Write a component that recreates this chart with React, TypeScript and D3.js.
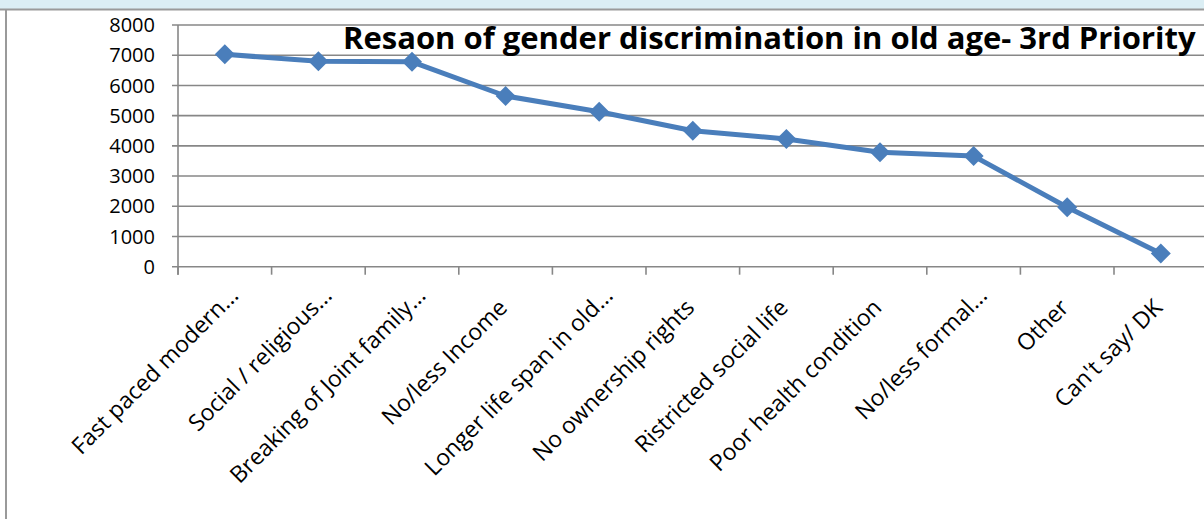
import React from "react";
import * as d3 from "d3";

const categories = [
  "Fast paced modern...",
  "Social / religious...",
  "Breaking of Joint family...",
  "No/less Income",
  "Longer life span in old...",
  "No ownership rights",
  "Ristricted social life",
  "Poor health condition",
  "No/less formal...",
  "Other",
  "Can't say/ DK",
];
const values = [7030, 6800, 6780, 5650, 5130, 4500, 4230, 3790, 3660, 1970, 440];
const yTicks = [0, 1000, 2000, 3000, 4000, 5000, 6000, 7000, 8000];
const title = "Resaon of gender discrimination in old age- 3rd Priority";

const W = 1204;
const H = 519;
const left = 178;
const right = 1207.6;
const top = 25;
const bottom = 266.7;

export default function App() {
  const x = d3.scaleBand<string>().domain(categories).range([left, right]).padding(0);
  const y = d3.scaleLinear().domain([0, 8000]).range([bottom, top]);
  const cx = (c: string) => (x(c) as number) + x.bandwidth() / 2;
  const line = d3
    .line<number>()
    .x((_, i) => cx(categories[i]))
    .y((d) => y(d));
  const grid = "#878787";
  const font = "'Open Sans', sans-serif";
  const bounds = [...categories.map((c) => x(c) as number), right];

  return (
    <svg
      width={W}
      height={H}
      style={{ position: "absolute", left: 0, top: 0, background: "#fff" }}
    >
      <rect x={0} y={0} width={W} height={9} fill="#DBEEF4" />
      <line x1={0} x2={W} y1={9.5} y2={9.5} stroke="#9a9a9a" strokeWidth={2} />
      <line x1={6} x2={6} y1={9} y2={H} stroke="#9a9a9a" strokeWidth={2} />
      {yTicks.map((t) => (
        <g key={t}>
          <line x1={left - 6} x2={W} y1={y(t)} y2={y(t)} stroke={grid} strokeWidth={1.6} />
          <text
            x={155}
            y={y(t)}
            dy="0.36em"
            textAnchor="end"
            fontFamily={font}
            fontSize={20}
            fill="#000"
          >
            {t}
          </text>
        </g>
      ))}
      <line x1={left} x2={left} y1={top} y2={bottom + 8} stroke={grid} strokeWidth={1.6} />
      {bounds.map((b, i) => (
        <line key={i} x1={b} x2={b} y1={bottom} y2={bottom + 8} stroke={grid} strokeWidth={1.6} />
      ))}
      <path d={line(values) || ""} fill="none" stroke="#4A7EBB" strokeWidth={5} strokeLinejoin="round" />
      {values.map((v, i) => {
        const px = cx(categories[i]);
        const py = y(v);
        const r = 10;
        return (
          <path
            key={i}
            d={`M${px},${py - r}L${px + r},${py}L${px},${py + r}L${px - r},${py}Z`}
            fill="#4A7EBB"
          />
        );
      })}
      {categories.map((c) => {
        const shift = c.endsWith("...") ? 15 : 3;
        const bx = cx(c) + shift;
        const by = 312 - shift;
        return (
          <text
            key={c}
            transform={`translate(${bx},${by}) rotate(-45)`}
            textAnchor="end"
            fontFamily={font}
            fontSize={23}
            fill="#000"
          >
            {c}
          </text>
        );
      })}
      <text x={343} y={49} fontFamily={font} fontWeight="bold" fontSize={31} fill="#000">
        {title}
      </text>
    </svg>
  );
}
